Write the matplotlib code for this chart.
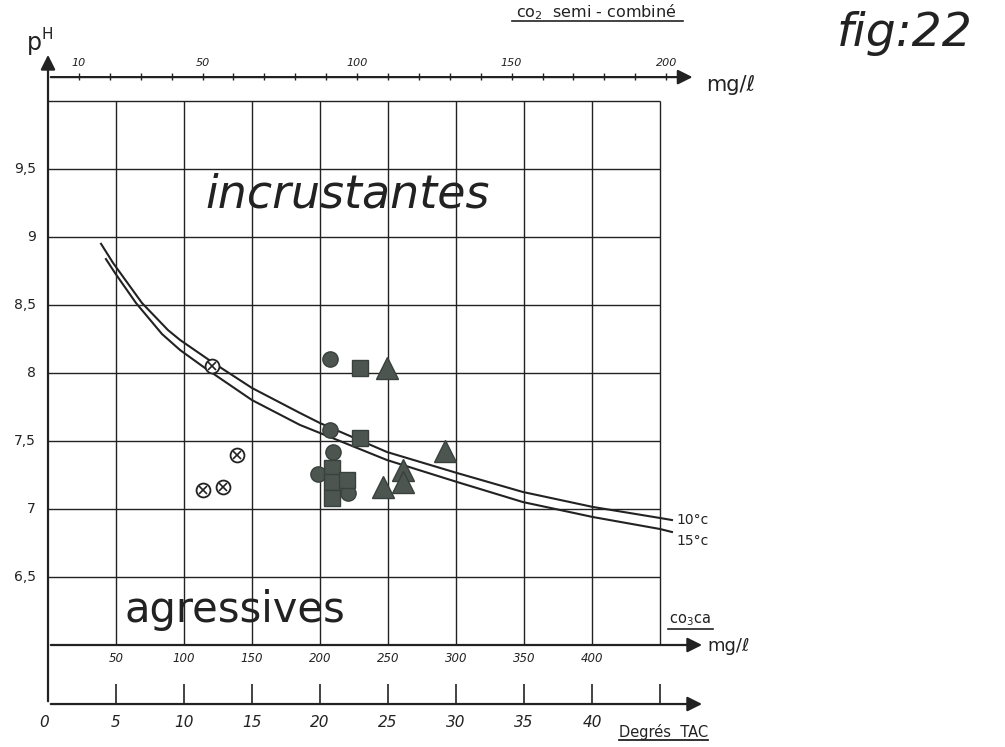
import numpy as np
import matplotlib
matplotlib.use("Agg")
import matplotlib.pyplot as plt

# ---------------------------------------------------------------------------
# Données (x = degrés TAC, y = pH)
# ---------------------------------------------------------------------------
tac_grille = [5, 10, 15, 20, 25, 30, 35, 40, 45]
tac_labels = ["0", "5", "10", "15", "20", "25", "30", "35", "40"]
tac_label_pos = [0, 5, 10, 15, 20, 25, 30, 35, 40]

co3ca_labels = [50, 100, 150, 200, 250, 300, 350, 400]   # mg/l = 10 x TAC
co2_ticks = list(range(10, 210, 10))                     # mg/l = 4.4 x TAC
co2_labels = [10, 50, 100, 150, 200]

ph_grille = [6.5, 7.0, 7.5, 8.0, 8.5, 9.0, 9.5, 10.0]
ph_labels = ["6,5", "7", "7,5", "8", "8,5", "9", "9,5"]

# courbes d'équilibre
courbe_10c_tac = [3.90, 4.78, 6.91, 8.82, 9.71, 12.06, 15.00, 18.53, 20.00,
                  24.93, 30.07, 34.93, 40.07, 45.00, 45.88]
courbe_10c_ph = [8.95, 8.81, 8.515, 8.316, 8.243, 8.081, 7.890, 7.706, 7.632,
                 7.419, 7.265, 7.125, 7.015, 6.934, 6.919]
courbe_15c_tac = [4.26, 4.93, 6.47, 8.38, 9.71, 11.54, 15.00, 18.53, 20.00,
                  24.93, 30.07, 34.93, 40.07, 45.00, 45.88]
courbe_15c_ph = [8.838, 8.735, 8.515, 8.287, 8.169, 8.037, 7.801, 7.618, 7.559,
                 7.360, 7.199, 7.051, 6.941, 6.853, 6.831]

# points de mesure
croix_tac = [12.06, 13.9, 11.4, 12.9]
croix_ph = [8.05, 7.40, 7.14, 7.16]
rond_tac = [20.74, 20.74, 20.96, 19.85, 22.06]
rond_ph = [8.10, 7.58, 7.42, 7.26, 7.12]
carre_tac = [22.94, 22.94, 20.88, 20.88, 20.88, 21.99]
carre_ph = [8.04, 7.52, 7.30, 7.20, 7.08, 7.21]
tri_tac = [24.93, 29.19, 24.63, 26.10, 26.10]
tri_ph = [8.04, 7.43, 7.16, 7.29, 7.20]

# ---------------------------------------------------------------------------
encre = "#222222"
gris = "#4c5550"

fig = plt.figure(figsize=(10.05, 7.47), dpi=100)
ax = fig.add_axes([0, 0, 1, 1])
ax.set_xlim(-3.53, 70.37)
ax.set_ylim(5.25, 10.743)
ax.axis("off")

# grille
ax.vlines(tac_grille, 6.0, 10.0, color=encre, lw=1.0)
ax.hlines(ph_grille, 0, 45, color=encre, lw=1.0)

fleche = dict(arrowstyle="-|>", color=encre, lw=1.6, mutation_scale=22)

# axe pH
ax.annotate("", xy=(0, 10.36), xytext=(0, 5.566), arrowprops=fleche)
ax.text(-0.45, 10.43, "p", fontsize=17, color=encre, ha="right", va="center")
ax.text(-0.45, 10.49, "H", fontsize=11, color=encre, ha="left", va="center")
for p, lab in zip(ph_grille, ph_labels):
    ax.text(-0.9, p, lab, fontsize=10, color=encre, ha="right", va="center")

# axe CO2 semi-combiné (haut)
y_co2 = 10.176
ax.annotate("", xy=(47.6, y_co2), xytext=(0, y_co2), arrowprops=fleche)
co2_x = np.array(co2_ticks) / 4.4
ax.vlines(co2_x, y_co2 - 0.02, y_co2 + 0.03, color=encre, lw=1.0)
for v in co2_labels:
    ax.text(v / 4.4, 10.28, str(v), fontsize=8, color=encre, ha="center",
            va="center", style="italic")
ax.text(48.4, 10.12, "mg/ℓ", fontsize=15, color=encre, ha="left", va="center")
ax.text(40.3, 10.655, "co$_2$  semi - combiné", fontsize=11.5, color=encre,
        ha="center", va="center")
ax.plot([34.1, 46.7], [10.585, 10.585], color=encre, lw=1.2)

# axe CO3Ca (bas)
ax.annotate("", xy=(48.3, 6.0), xytext=(0, 6.0), arrowprops=fleche)
for v in co3ca_labels:
    ax.text(v / 10, 5.9, str(v), fontsize=8.5, color=encre, ha="center",
            va="center", style="italic")
ax.text(47.2, 6.18, "co$_3$ca", fontsize=10.5, color=encre, ha="center",
        va="center")
ax.plot([45.6, 48.9], [6.115, 6.115], color=encre, lw=1.2)
ax.text(48.5, 5.99, "mg/ℓ", fontsize=13, color=encre, ha="left", va="center")

# axe degrés TAC
y_tac = 5.566
ax.annotate("", xy=(48.3, y_tac), xytext=(0, y_tac), arrowprops=fleche)
ax.vlines(tac_grille, y_tac, y_tac + 0.15, color=encre, lw=1.2)
for x, lab in zip(tac_label_pos, tac_labels):
    ax.text(x - 0.3 if x == 0 else x, 5.43, lab, fontsize=11, color=encre,
            ha="center", va="center", style="italic")
ax.text(45.3, 5.36, "Degrés  TAC", fontsize=10.5, color=encre, ha="center",
        va="center")
ax.plot([42.0, 48.5], [5.30, 5.30], color=encre, lw=1.3)

# courbes
ax.plot(courbe_10c_tac, courbe_10c_ph, color=encre, lw=1.5)
ax.plot(courbe_15c_tac, courbe_15c_ph, color=encre, lw=1.5)
ax.text(46.2, 6.92, "10°c", fontsize=10, color=encre, ha="left", va="center")
ax.text(46.2, 6.765, "15°c", fontsize=10, color=encre, ha="left", va="center")

# points
ax.plot(croix_tac, croix_ph, "o", ms=10, mfc="white", mec=encre, mew=1.3)
ax.plot(croix_tac, croix_ph, "x", ms=6, color=encre, mew=1.2)
ax.plot(rond_tac, rond_ph, "o", ms=11, mfc=gris, mec="#39413c", mew=1)
ax.plot(carre_tac, carre_ph, "s", ms=11, mfc=gris, mec="#39413c", mew=1)
ax.plot(tri_tac, tri_ph, "^", ms=16, mfc=gris, mec="#39413c", mew=1)

# zones
ax.text(22.0, 9.31, "incrustantes", fontsize=33, color=encre, ha="center",
        va="center", style="italic")
ax.text(13.75, 6.26, "agressives", fontsize=30, color=encre, ha="center",
        va="center")
ax.text(63.0, 10.50, "fig:22", fontsize=34, color=encre, ha="center",
        va="center", style="italic")

fig.savefig("out.png", dpi=100)
